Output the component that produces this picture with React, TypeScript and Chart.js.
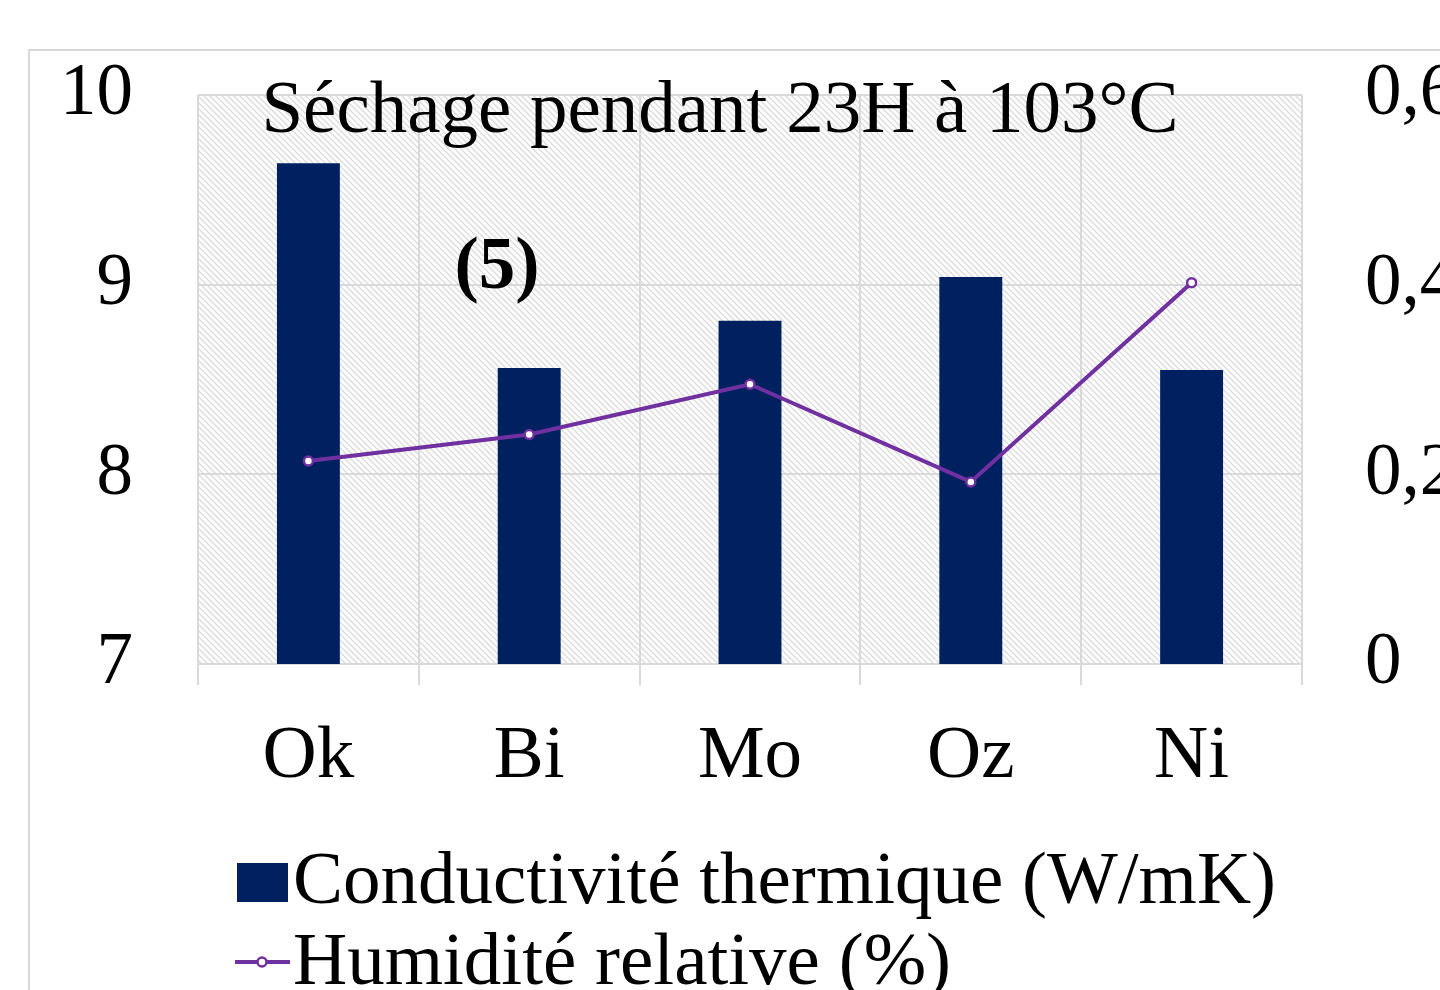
import React, { useEffect, useRef } from 'react';
import { Chart, registerables } from 'chart.js';

Chart.register(...registerables);

const categories = ['Ok', 'Bi', 'Mo', 'Oz', 'Ni'];
const conductivite = [9.64, 8.56, 8.81, 9.04, 8.55];
const humidite = [0.214, 0.242, 0.295, 0.192, 0.402];
const leftTicks = [7, 8, 9, 10];
const rightTicks = [0, 0.2, 0.4, 0.6];
const titleText = 'Séchage pendant 23H à 103°C';
const annotationText = '(5)';
const seriesLabels = ['Conductivité thermique (W/mK)', 'Humidité relative (%)'];

const FONT = "'Liberation Serif', 'Times New Roman', serif";
const BAR_COLOR = '#002060';
const LINE_COLOR = '#7030A0';
const GRID = '#d9d9d9';

function makePattern(): CanvasPattern | string {
  const p = document.createElement('canvas');
  p.width = 6;
  p.height = 6;
  const c = p.getContext('2d');
  if (!c) return '#f2f2f2';
  c.fillStyle = '#ffffff';
  c.fillRect(0, 0, 6, 6);
  c.strokeStyle = '#dcdcdc';
  c.lineWidth = 1.4;
  c.beginPath();
  c.moveTo(-1, -1); c.lineTo(7, 7);
  c.moveTo(-1, 5); c.lineTo(1, 7);
  c.moveTo(5, -1); c.lineTo(7, 1);
  c.stroke();
  return c.createPattern(p, 'repeat') || '#f2f2f2';
}

export default function App() {
  const ref = useRef<HTMLCanvasElement | null>(null);

  useEffect(() => {
    document.body.style.margin = '0';
    const canvas = ref.current;
    if (!canvas) return;
    const pattern = makePattern();

    const decor = {
      id: 'decor',
      beforeDraw(chart: any) {
        const { ctx, chartArea } = chart;
        ctx.save();
        ctx.fillStyle = '#ffffff';
        ctx.fillRect(0, 0, chart.width, chart.height);
        ctx.strokeStyle = GRID;
        ctx.lineWidth = 2;
        ctx.strokeRect(29, 50, 3000, 3000);
        ctx.fillStyle = pattern as any;
        ctx.fillRect(chartArea.left, chartArea.top, chartArea.right - chartArea.left, chartArea.bottom - chartArea.top);
        ctx.restore();
      },
      afterDraw(chart: any) {
        const { ctx } = chart;
        ctx.save();
        ctx.fillStyle = '#000';
        ctx.textBaseline = 'alphabetic';
        ctx.font = `75px ${FONT}`;
        ctx.textAlign = 'center';
        ctx.fillText(titleText, 720, 132);
        ctx.font = `bold 73px ${FONT}`;
        ctx.fillText(annotationText, 497, 288);
        // legend
        ctx.textAlign = 'left';
        ctx.font = `75px ${FONT}`;
        ctx.fillStyle = BAR_COLOR;
        ctx.fillRect(237, 863, 51, 39);
        ctx.fillStyle = '#000';
        ctx.fillText(chart.data.datasets[0].label, 293, 903);
        ctx.strokeStyle = LINE_COLOR;
        ctx.lineWidth = 4;
        ctx.beginPath();
        ctx.moveTo(235, 962);
        ctx.lineTo(290, 962);
        ctx.stroke();
        ctx.beginPath();
        ctx.arc(262, 962, 4.5, 0, Math.PI * 2);
        ctx.fillStyle = '#fff';
        ctx.fill();
        ctx.lineWidth = 2.5;
        ctx.stroke();
        ctx.fillStyle = '#000';
        ctx.fillText(chart.data.datasets[1].label, 293, 984);
        ctx.restore();
      },
    };

    const chart = new Chart(canvas, {
      type: 'bar',
      data: {
        labels: categories,
        datasets: [
          {
            type: 'bar',
            label: seriesLabels[0],
            data: conductivite,
            backgroundColor: BAR_COLOR,
            borderWidth: 0,
            categoryPercentage: 1,
            barPercentage: 0.285,
            yAxisID: 'y',
            order: 2,
          },
          {
            type: 'line',
            label: seriesLabels[1],
            data: humidite,
            borderColor: LINE_COLOR,
            borderWidth: 4,
            pointRadius: 4.5,
            pointBackgroundColor: '#ffffff',
            pointBorderColor: LINE_COLOR,
            pointBorderWidth: 2.5,
            tension: 0,
            yAxisID: 'y1',
            order: 1,
          },
        ],
      } as any,
      options: {
        responsive: false,
        animation: false,
        devicePixelRatio: 1,
        layout: { padding: { top: 95, left: 0, right: 0, bottom: 0 } },
        plugins: {
          legend: { display: false },
          tooltip: { enabled: false },
          title: { display: false },
        },
        scales: {
          x: {
            offset: true,
            grid: {
              offset: true,
              color: GRID,
              lineWidth: 2,
              tickLength: 21,
              drawTicks: true,
            },
            border: { display: true, color: GRID, width: 2 },
            ticks: {
              color: '#000',
              font: { family: FONT, size: 75 },
              padding: 27,
              maxRotation: 0,
            },
            afterFit: (s: any) => { s.height = 326; },
          },
          y: {
            position: 'left',
            min: 7,
            max: 10,
            afterBuildTicks: (s: any) => { s.ticks = leftTicks.map((v) => ({ value: v })); },
            grid: { color: GRID, lineWidth: 2, drawTicks: true, tickLength: 65, tickColor: 'rgba(0,0,0,0)' },
            border: { display: false },
            ticks: {
              color: '#000',
              font: { family: FONT, size: 73 },
              padding: 0,
            },
            afterFit: (s: any) => { s.width = 198; s.paddingTop = 0; s.paddingBottom = 0; },
          },
          y1: {
            position: 'right',
            min: 0,
            max: 0.6,
            afterBuildTicks: (s: any) => { s.ticks = rightTicks.map((v) => ({ value: v })); },
            grid: { drawOnChartArea: false, drawTicks: true, tickLength: 63, tickColor: 'rgba(0,0,0,0)' },
            border: { display: false },
            ticks: {
              color: '#000',
              font: { family: FONT, size: 73 },
              padding: 0,
              callback: (v: any) => (Number(v) === 0 ? '0' : Number(v).toFixed(1).replace('.', ',')),
            },
            afterFit: (s: any) => { s.width = 138; s.paddingTop = 0; s.paddingBottom = 0; },
          },
        },
      } as any,
      plugins: [decor],
    });

    return () => chart.destroy();
  }, []);

  return (
    <div style={{ position: 'fixed', left: 0, top: 0, width: 1440, height: 990, background: '#fff' }}>
      <canvas ref={ref} width={1440} height={990} style={{ display: 'block', width: 1440, height: 990 }} />
    </div>
  );
}
